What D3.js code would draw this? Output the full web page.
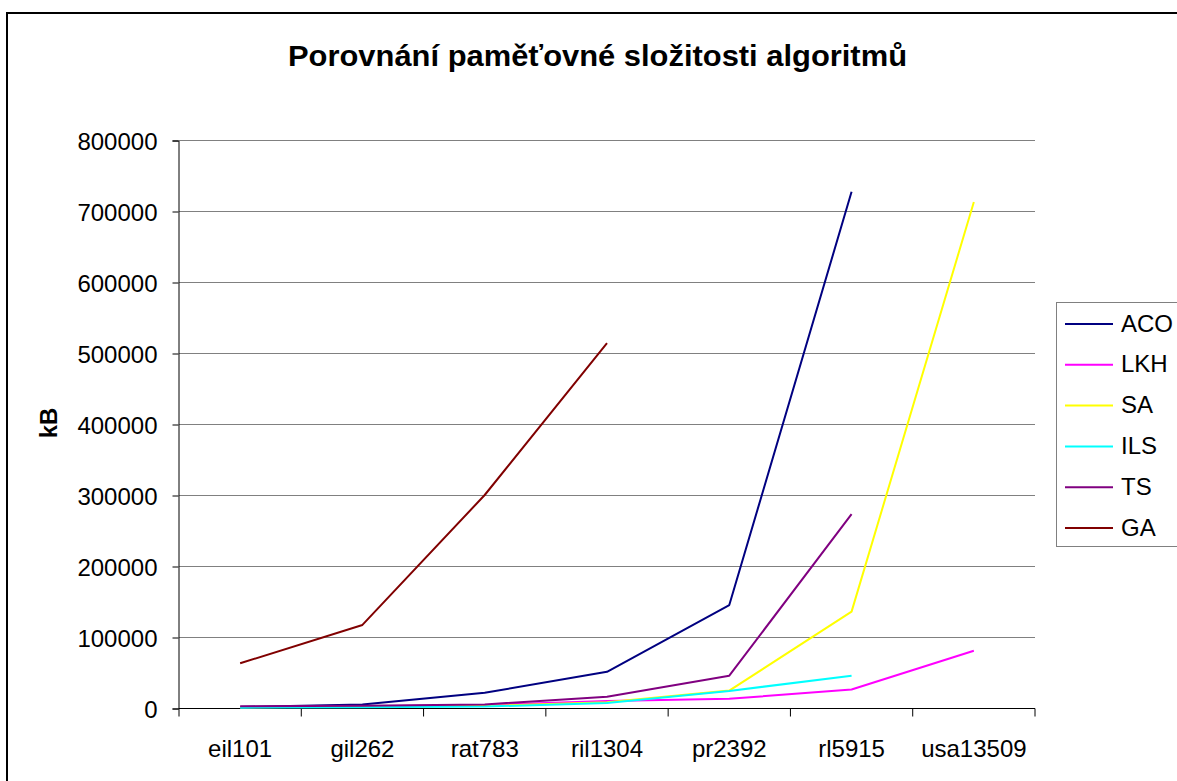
<!DOCTYPE html>
<html><head><meta charset="utf-8">
<script src="https://cdn.jsdelivr.net/npm/d3@7"></script>
<style>body{margin:0;background:#fff}svg{display:block}text{font-family:"Liberation Sans",Arial,sans-serif}</style>
</head><body>
<svg id="c" width="1177" height="781"></svg>
<script>
const categories = ["eil101","gil262","rat783","ril1304","pr2392","rl5915","usa13509"];
const ACO = [1500, 5000, 21500, 51000, 145000, 727000, null];
const LKH = [1000, 2500, 4000, 10000, 13000, 26000, 80700];
const SA  = [1000, 2000, 3000, 8000, 24500, 135700, 712700];
const ILS = [500, 1000, 2000, 7000, 24000, 45500, null];
const TS  = [2500, 3000, 5000, 16000, 45500, 273000, null];
const GA  = [63000, 117000, 300000, 514000, null, null, null];
const yTicks = [0,100000,200000,300000,400000,500000,600000,700000,800000];
const seriesNames = ["ACO","LKH","SA","ILS","TS","GA"];
const seriesValues = [ACO, LKH, SA, ILS, TS, GA];
const colors = ["#000080","#FF00FF","#FFFF00","#00FFFF","#800080","#800000"];

const svg = d3.select("#c");
svg.append("rect").attr("x",7).attr("y",13).attr("width",1185).attr("height",790)
  .attr("fill","#fff").attr("stroke","#000").attr("stroke-width",2);

const L=179, R=1035, T=140, B=708;
const x = d3.scaleBand().domain(categories).range([L,R]);
const y = d3.scaleLinear().domain([0,800000]).range([B,T]);

// gridlines
svg.append("g").selectAll("line").data(yTicks.filter(d=>d>0)).join("line")
  .attr("x1",L).attr("x2",R).attr("y1",d=>y(d)+0.5).attr("y2",d=>y(d)+0.5)
  .attr("stroke","#808080").attr("stroke-width",1);

// y axis
const ya = svg.append("g").attr("transform",`translate(${L-0.5},0.5)`)
  .call(d3.axisLeft(y).tickValues(yTicks).tickSize(6).tickPadding(15).tickFormat(d3.format("d")));
ya.select(".domain").attr("stroke","#000");
ya.selectAll(".tick line").attr("stroke","#000");
ya.selectAll("text").attr("font-size","24px").attr("fill","#000").attr("dy","0.36em");

// x axis
const xa = svg.append("g").attr("transform",`translate(0,${B+0.5})`)
  .call(d3.axisBottom(x).tickSize(0).tickPadding(31));
xa.select(".domain").attr("stroke","#000").attr("d",`M${L},0H${R}`);
xa.selectAll("text").attr("font-size","24px").attr("fill","#000");
const bounds = categories.map(c=>x(c)).concat([R]);
xa.selectAll(".bt").data(bounds).join("line").attr("class","bt")
  .attr("x1",d=>d).attr("x2",d=>d).attr("y1",0).attr("y2",8).attr("stroke","#000");

// lines
const line = d3.line().defined(d=>d.v!=null).x(d=>x(d.c)+x.bandwidth()/2).y(d=>y(d.v));
seriesValues.forEach((vals,i)=>{
  svg.append("path").datum(vals.map((v,j)=>({c:categories[j],v})))
    .attr("d",line).attr("fill","none").attr("stroke",colors[i]).attr("stroke-width",2)
    .attr("stroke-linejoin","round");
});

// title
svg.append("text").attr("x",597.5).attr("y",66).attr("text-anchor","middle")
  .attr("font-size","29px").attr("font-weight","bold")
  .attr("textLength",619).attr("lengthAdjust","spacingAndGlyphs")
  .text("Porovnání paměťovné složitosti algoritmů");

// y label
svg.append("text").attr("transform","translate(57,423) rotate(-90)").attr("text-anchor","middle")
  .attr("font-size","24px").attr("font-weight","bold").text("kB");

// legend
const lg = svg.append("g");
lg.append("rect").attr("x",1056.5).attr("y",302.5).attr("width",140).attr("height",244)
  .attr("fill","#fff").attr("stroke","#808080").attr("stroke-width",1);
seriesNames.forEach((n,i)=>{
  const yy = 324 + i*40.8;
  lg.append("line").attr("x1",1065).attr("x2",1113).attr("y1",yy).attr("y2",yy)
    .attr("stroke",colors[i]).attr("stroke-width",2);
  lg.append("text").attr("x",1121).attr("y",yy+7.5).attr("font-size","24px").text(n);
});
</script>
</body></html>
